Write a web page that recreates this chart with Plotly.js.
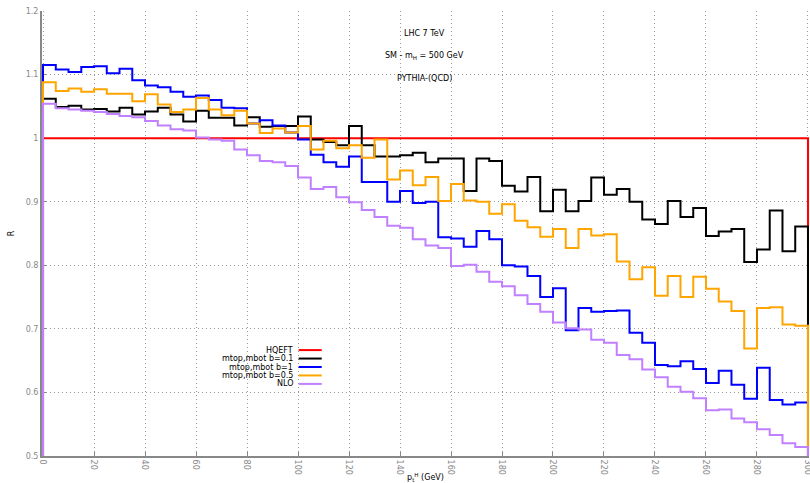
<!DOCTYPE html>
<html>
<head>
<meta charset="utf-8">
<script src="https://cdn.plot.ly/plotly-3.0.1.min.js"></script>
<style>html,body{margin:0;padding:0;background:#fff;}#chart{width:810px;height:483px;}</style>
</head>
<body>
<div id="chart"></div>
<script>
// bin lower edges are binStart + i*binWidth
var binStart = 0;
var binWidth = 5;

var hqeft = [1,1,1,1,1,1,1,1,1,1, 1,1,1,1,1,1,1,1,1,1, 1,1,1,1,1,1,1,1,1,1,
             1,1,1,1,1,1,1,1,1,1, 1,1,1,1,1,1,1,1,1,1, 1,1,1,1,1,1,1,1,1,1];
var b01 = [1.062,1.049,1.051,1.045,1.046,1.042,1.048,1.037,1.042,1.048,
           1.037,1.026,1.043,1.032,1.032,1.020,1.033,1.018,1.019,1.019,
           1.034,0.998,0.994,0.989,1.019,0.989,0.971,0.971,0.973,0.977,
           0.962,0.968,0.968,0.917,0.968,0.964,0.925,0.916,0.939,0.885,
           0.919,0.885,0.901,0.938,0.911,0.920,0.900,0.872,0.865,0.901,
           0.876,0.890,0.846,0.853,0.857,0.805,0.825,0.886,0.822,0.861];
var b1 = [1.115,1.108,1.104,1.112,1.113,1.102,1.109,1.091,1.083,1.080,
          1.073,1.065,1.067,1.060,1.048,1.047,1.023,1.028,1.020,1.009,
          0.998,0.974,0.962,0.955,0.971,0.931,0.931,0.900,0.917,0.898,
          0.900,0.844,0.842,0.829,0.854,0.841,0.800,0.798,0.783,0.750,
          0.764,0.698,0.733,0.727,0.728,0.729,0.694,0.678,0.643,0.641,
          0.649,0.637,0.615,0.634,0.612,0.590,0.639,0.588,0.581,0.584];
var b05 = [1.088,1.074,1.078,1.073,1.077,1.070,1.070,1.058,1.069,1.053,
           1.041,1.045,1.063,1.045,1.036,1.043,1.023,1.008,1.015,1.009,
           1.019,0.982,0.996,0.984,0.989,0.969,0.998,0.935,0.949,0.926,
           0.939,0.901,0.928,0.902,0.900,0.881,0.896,0.870,0.860,0.845,
           0.857,0.827,0.857,0.847,0.849,0.806,0.778,0.797,0.752,0.783,
           0.750,0.782,0.763,0.743,0.728,0.669,0.733,0.734,0.707,0.705];
var nlo = [1.054,1.047,1.045,1.043,1.041,1.038,1.035,1.033,1.027,1.020,
           1.014,1.012,1.001,0.998,0.996,0.982,0.973,0.964,0.962,0.956,
           0.938,0.920,0.923,0.907,0.899,0.887,0.876,0.862,0.859,0.841,
           0.831,0.827,0.799,0.801,0.790,0.774,0.767,0.753,0.739,0.727,
           0.710,0.701,0.699,0.683,0.678,0.659,0.652,0.636,0.624,0.609,
           0.601,0.591,0.572,0.573,0.559,0.553,0.542,0.533,0.520,0.514];

var seriesNames = ["HQEFT", "mtop,mbot b=0.1", "mtop,mbot b=1", "mtop,mbot b=0.5", "NLO"];
var seriesData = [hqeft, b01, b1, b05, nlo];
var seriesColors = ["#ff0000", "#000000", "#0000ff", "#ffa500", "#c080ff"];

var baseline = 0.5;

function stepTrace(vals, name, color) {
  var xs = [binStart], ys = [baseline];
  for (var i = 0; i < vals.length; i++) {
    xs.push(binStart + i * binWidth);
    ys.push(vals[i]);
  }
  var xEnd = binStart + vals.length * binWidth;
  xs.push(xEnd); ys.push(vals[vals.length - 1]);
  xs.push(xEnd); ys.push(baseline);
  return {x: xs, y: ys, type: "scatter", mode: "lines", name: name,
          line: {shape: "hv", color: color, width: 2}, showlegend: false,
          hoverinfo: "skip"};
}

var traces = seriesData.map(function (d, k) { return stepTrace(d, seriesNames[k], seriesColors[k]); });

var font = "DejaVu Sans, sans-serif";
var gray = "#888888";

var annotations = [
  {text: "LHC 7 TeV", x: 0.4993, y: 0.950},
  {text: "SM - m<sub>H</sub> = 500 GeV", x: 0.4993, y: 0.898},
  {text: "PYTHIA-(QCD)", x: 0.4993, y: 0.848}
].map(function (a) {
  return {text: a.text, x: a.x, y: a.y, xref: "paper", yref: "paper", showarrow: false,
          xanchor: "center", yanchor: "middle", font: {family: font, size: 8, color: "#000"}};
});

var legendY = [0.238, 0.219, 0.200, 0.181, 0.162];
var shapes = [];
for (var i = 0; i < seriesNames.length; i++) {
  annotations.push({text: seriesNames[i], x: 0.3294, y: legendY[i], xref: "paper", yref: "paper",
    showarrow: false, xanchor: "right", yanchor: "middle", font: {family: font, size: 8, color: "#000"}});
  shapes.push({type: "line", xref: "paper", yref: "paper", x0: 0.3346, x1: 0.3647,
    y0: legendY[i], y1: legendY[i], line: {color: seriesColors[i], width: 2}});
}

var layout = {
  width: 810, height: 483,
  margin: {l: 42, r: 1, t: 11, b: 27, pad: 0},
  paper_bgcolor: "#fff", plot_bgcolor: "#fff",
  font: {family: font, size: 8, color: gray},
  showlegend: false,
  xaxis: {
    range: [-0.4, 300.4], tickvals: [0,20,40,60,80,100,120,140,160,180,200,220,240,260,280,300],
    tickangle: 90, ticklabeloverflow: "allow",
    showgrid: true, gridcolor: "#9a9a9a", griddash: "1px,3px", gridwidth: 1,
    zeroline: false, showline: true, linecolor: gray, linewidth: 2,
    ticks: "inside", ticklen: 4, tickcolor: gray,
    tickfont: {family: font, size: 8, color: gray},
    layer: "below traces",
    title: {text: "p<sub>t</sub><sup>H</sup> (GeV)", font: {family: font, size: 8, color: "#000"}, standoff: 3}
  },
  yaxis: {
    range: [0.5, 1.2], dtick: 0.1, tick0: 0.5,
    showgrid: true, gridcolor: "#9a9a9a", griddash: "1px,3px", gridwidth: 1,
    zeroline: false, showline: true, linecolor: gray, linewidth: 2,
    ticks: "inside", ticklen: 4, tickcolor: gray,
    tickfont: {family: font, size: 8, color: gray},
    layer: "below traces",
    title: {text: "R", font: {family: font, size: 8, color: "#000"}, standoff: 10}
  },
  annotations: annotations,
  shapes: shapes
};

Plotly.newPlot("chart", traces, layout, {displayModeBar: false, staticPlot: true});
</script>
</body>
</html>
